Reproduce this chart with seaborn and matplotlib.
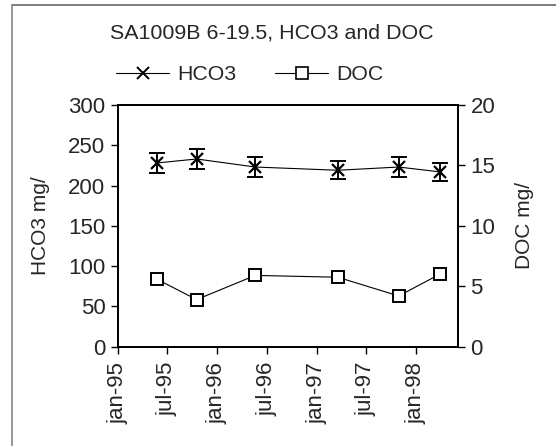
import pandas as pd
import matplotlib.pyplot as plt
from matplotlib.lines import Line2D
import seaborn as sns

# Dati
dates = ["1995-05-23", "1995-10-17", "1996-05-20", "1997-03-19", "1997-10-29", "1998-03-29"]
hco3 = [228, 233, 223, 219, 223, 217]
hco3_err = [12, 12, 12, 11, 12, 11]
doc = [5.6, 3.9, 5.9, 5.75, 4.2, 6.0]

tick_dates = ["1995-01-01", "1995-07-01", "1996-01-01", "1996-07-01",
              "1997-01-01", "1997-07-01", "1998-01-01"]
tick_labels = ["jan-95", "jul-95", "jan-96", "jul-96", "jan-97", "jul-97", "jan-98"]

df = pd.DataFrame({"data": pd.to_datetime(dates), "HCO3": hco3, "err": hco3_err, "DOC": doc})

sns.set_style("white")
plt.rcParams["font.family"] = ["Liberation Sans", "DejaVu Sans"]
plt.rcParams["font.size"] = 15

fig = plt.figure(figsize=(5.56, 4.46), dpi=100)
ax = fig.add_axes([0.2122, 0.2226, 0.6115, 0.542])

# HCO3 con barre di errore
sns.lineplot(data=df, x="data", y="HCO3", ax=ax, color="black", lw=0.8,
             marker="x", markersize=9, markeredgewidth=1.6, markeredgecolor="black")
ax.errorbar(df["data"], df["HCO3"], yerr=df["err"], fmt="none", ecolor="black",
            elinewidth=1.4, capsize=5.5, capthick=1.4)

ax.set_ylim(0, 300)
ax.set_yticks(range(0, 301, 50))
ax.set_ylabel("HCO3 mg/", labelpad=13, fontsize=15)
ax.set_xlabel("")
ax.set_xlim(pd.Timestamp("1995-01-01"), pd.Timestamp("1998-06-04"))
ax.set_xticks(pd.to_datetime(tick_dates))
ax.set_xticklabels(tick_labels, rotation=90)

# DOC sull'asse secondario
ax2 = ax.twinx()
sns.lineplot(data=df, x="data", y="DOC", ax=ax2, color="black", lw=0.8,
             marker="s", markersize=8, markerfacecolor="white",
             markeredgecolor="black", markeredgewidth=1.4)
ax2.set_ylim(0, 20)
ax2.set_yticks(range(0, 21, 5))
ax2.set_ylabel("DOC mg/", labelpad=14, fontsize=15)
ax2.set_xlim(pd.Timestamp("1995-01-01"), pd.Timestamp("1998-06-04"))

for a in (ax, ax2):
    for s in a.spines.values():
        s.set_color("black")
        s.set_linewidth(1.3)
    a.tick_params(direction="out", length=5, width=1, color="black", pad=4, labelsize=16)
ax.tick_params(axis="y", right=False)
ax.tick_params(axis="x", bottom=True, pad=6)

fig.text(272 / 556, 1 - 33 / 446, "SA1009B 6-19.5, HCO3 and DOC", ha="center", va="center",
         fontsize=15.4)

handles = [
    Line2D([], [], color="black", lw=0.8, marker="x", markersize=9, markeredgewidth=1.4),
    Line2D([], [], color="black", lw=0.8, marker="s", markersize=8,
           markerfacecolor="white", markeredgewidth=1.2),
]
fig.legend(handles, ["HCO3", "DOC"], ncol=2, frameon=False, handlelength=2.5,
           columnspacing=1.8, handletextpad=0.4, fontsize=15.3,
           loc="center", bbox_to_anchor=(250 / 556, 1 - 75 / 446))

# cornice grigia della figura
fig.add_artist(Line2D([12 / 556, 1.0], [1 - 5 / 446, 1 - 5 / 446], color="#666666", lw=1.2))
fig.add_artist(Line2D([12 / 556, 12 / 556], [1 - 5 / 446, 0.0], color="#888888", lw=1.2))

fig.savefig("out.png", dpi=100)
